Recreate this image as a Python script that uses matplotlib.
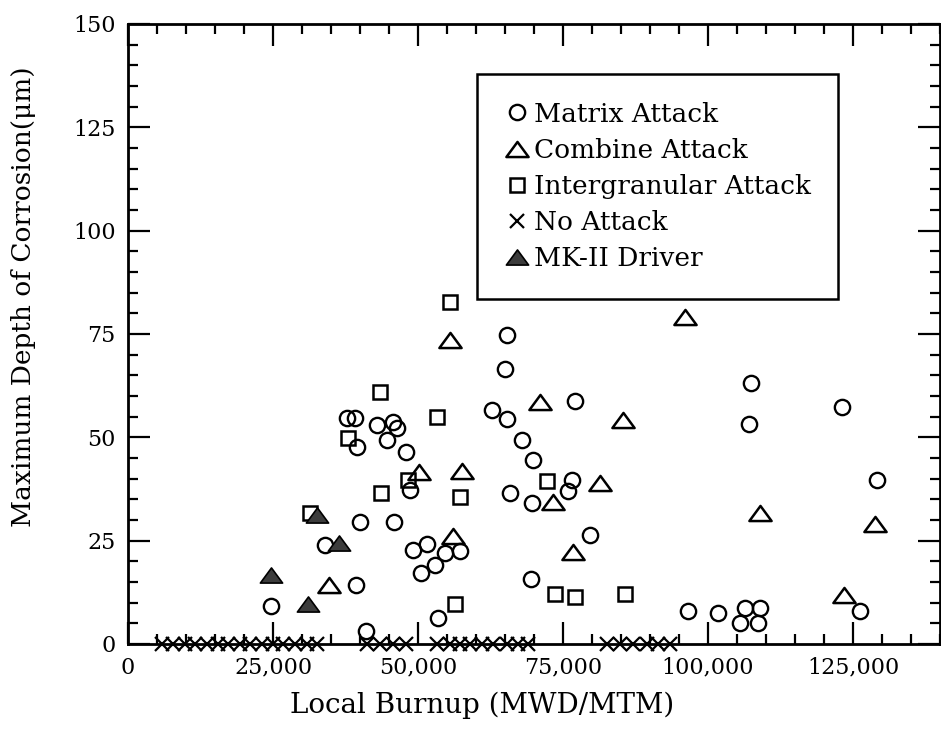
import matplotlib
matplotlib.use("Agg")
import matplotlib.pyplot as plt
from matplotlib.ticker import MultipleLocator, FuncFormatter
from matplotlib.path import Path
from matplotlib.lines import Line2D

plt.rcParams['font.family'] = ['DejaVu Serif', 'DejaVu Sans']

# ---------------- data (local burnup in MWD/MTM, depth in micrometres) ----------------
matrix_burnup = [37700, 39100, 42900, 45700, 46300, 44600, 39400, 48000, 48600, 40000,
                 45900, 34000, 49200, 51600, 50600, 52900, 54700, 57200, 39300, 24600,
                 41000, 53500, 65300, 65000, 77100, 62700, 65400, 67900, 69800, 65900,
                 69600, 76600, 75900, 79600, 69400, 96600, 101700, 107400, 107100, 123100,
                 129100, 126200, 106400, 109000, 105600, 108600]
matrix_depth = [54.6, 54.6, 53.0, 53.8, 52.2, 49.4, 47.6, 46.5, 37.3, 29.4,
                29.6, 24.0, 22.7, 24.2, 17.1, 19.1, 22.1, 22.6, 14.3, 9.2,
                3.2, 6.4, 74.8, 66.5, 58.9, 56.6, 54.4, 49.4, 44.5, 36.5,
                34.0, 39.7, 36.9, 26.4, 15.7, 8.1, 7.4, 63.1, 53.2, 57.3,
                39.7, 8.1, 8.6, 8.6, 5.2, 5.0]

combine_burnup = [50100, 34700, 55500, 96000, 71000, 85300, 57500, 73300, 81400, 76700,
                  56100, 109000, 128800, 123500]
combine_depth = [41.7, 14.3, 73.6, 79.2, 58.6, 54.2, 41.9, 34.4, 38.9, 22.3,
                 26.1, 31.6, 29.0, 11.9]

inter_burnup = [43400, 38000, 48300, 43700, 31400, 55600, 53200, 57200, 72300, 73600,
                77100, 85700, 56400]
inter_depth = [61.0, 49.8, 39.7, 36.6, 31.6, 82.8, 55.0, 35.6, 39.4, 12.1,
               11.3, 12.1, 9.7]

noattack_burnup = [5800, 7800, 9800, 11600, 13600, 15600, 17300, 19300, 21000, 23100,
                   25000, 26800, 28800, 30800, 32500, 41200, 43400, 45700, 48000, 53300,
                   55500, 57200, 59000, 61000, 62900, 65300, 67200, 69000, 82600, 84800,
                   87100, 89500, 91400, 93400]
noattack_depth = [0.0] * len(noattack_burnup)

mk2_burnup = [32500, 36300, 24600, 31100]
mk2_depth = [31.2, 24.4, 16.7, 9.7]

labels = ["Matrix Attack", "Combine Attack", "Intergranular Attack", "No Attack", "MK-II Driver"]

# ---------------- figure ----------------
fig = plt.figure(figsize=(9.41, 7.34), dpi=100)
ax = fig.add_axes([128 / 941, (734 - 644) / 734, 812 / 941, 620 / 734])

tri = Path([(0, 0.68), (-1, -0.68), (1, -0.68), (0, 0.68)],
           [Path.MOVETO, Path.LINETO, Path.LINETO, Path.CLOSEPOLY])

k = dict(linestyle='none', clip_on=False, zorder=3)
ax.plot(matrix_burnup, matrix_depth, marker='o', ms=11, mfc='none', mec='black', mew=1.7, **k)
ax.plot(combine_burnup, combine_depth, marker=tri, ms=16, mfc='none', mec='black', mew=1.8, **k)
ax.plot(inter_burnup, inter_depth, marker='s', ms=10.5, mfc='none', mec='black', mew=1.8, **k)
ax.plot(noattack_burnup, noattack_depth, marker='x', ms=9.5, mec='black', mew=1.6, **k)
ax.plot(mk2_burnup, mk2_depth, marker=tri, ms=16, mfc='#3c3c3c', mec='black', mew=1.2, **k)

ax.set_xlim(0, 140000)
ax.set_ylim(0, 150)
ax.xaxis.set_major_locator(MultipleLocator(25000))
ax.xaxis.set_minor_locator(MultipleLocator(5000))
ax.yaxis.set_major_locator(MultipleLocator(25))
ax.yaxis.set_minor_locator(MultipleLocator(5))
ax.xaxis.set_major_formatter(FuncFormatter(lambda v, p: f"{int(round(v)):,}"))
ax.yaxis.set_major_formatter(FuncFormatter(lambda v, p: f"{int(round(v))}"))

ax.tick_params(which='both', direction='in', top=True, right=True, width=1.6, colors='black')
ax.tick_params(which='major', length=16, labelsize=16, pad=9)
ax.tick_params(which='minor', length=7)
for s in ax.spines.values():
    s.set_linewidth(2.0)
    s.set_color('black')

ax.set_xlabel("Local Burnup (MWD/MTM)", fontsize=20)
ax.set_ylabel("Maximum Depth of Corrosion(μm)", fontsize=19)
ax.xaxis.set_label_coords(0.436, -0.077)
ax.yaxis.set_label_coords(-0.113, 0.56)

handles = [
    Line2D([], [], linestyle='none', marker='o', ms=11, mfc='none', mec='black', mew=1.7),
    Line2D([], [], linestyle='none', marker=tri, ms=16, mfc='none', mec='black', mew=1.8),
    Line2D([], [], linestyle='none', marker='s', ms=10.5, mfc='none', mec='black', mew=1.8),
    Line2D([], [], linestyle='none', marker='x', ms=9.5, mec='black', mew=1.6),
    Line2D([], [], linestyle='none', marker=tri, ms=16, mfc='#3c3c3c', mec='black', mew=1.2),
]
leg = ax.legend(handles, labels, loc='upper left',
                bbox_to_anchor=((477 - 128) / 812, (644 - 74) / 620),
                fontsize=19, frameon=True, fancybox=False, framealpha=1,
                edgecolor='black', borderpad=1.05, labelspacing=0.42,
                handlelength=0.9, handletextpad=0.2, borderaxespad=0)
leg.get_frame().set_linewidth(1.8)
leg.set_zorder(5)

fig.savefig("out.png", dpi=100)
